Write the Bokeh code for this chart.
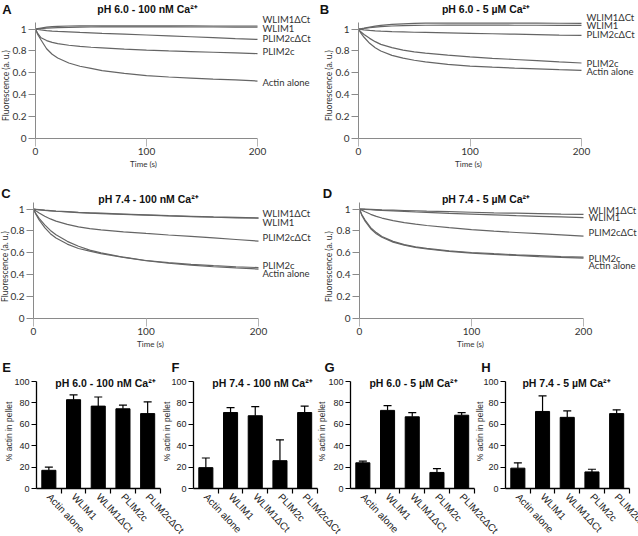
import math
from bokeh.plotting import figure
from bokeh.models import (Range1d, FixedTicker, Label, ColumnDataSource, Whisker, TeeHead,
                          LinearAxis)
from bokeh.layouts import row, column
from bokeh.embed import file_html
from bokeh.resources import INLINE

# ---------------- data ----------------
time_s = [0, 2, 5, 10, 15, 20, 30, 40, 50, 60, 80, 100, 120, 140, 160, 180, 200]
series_names = ["WLIM1ΔCt", "WLIM1", "PLIM2cΔCt", "PLIM2c", "Actin alone"]

# A: pH 6.0 - 100 nM Ca2+
a_wlim1dct = [1.00, 1.004, 1.010, 1.017, 1.022, 1.025, 1.028, 1.029, 1.030, 1.030, 1.030, 1.030, 1.029, 1.029, 1.028, 1.028, 1.028]
a_wlim1 = [1.00, 1.001, 1.004, 1.008, 1.011, 1.013, 1.016, 1.018, 1.019, 1.020, 1.020, 1.020, 1.020, 1.019, 1.019, 1.018, 1.018]
a_plim2cdct = [1.00, 0.996, 0.992, 0.986, 0.982, 0.979, 0.974, 0.969, 0.965, 0.961, 0.954, 0.946, 0.938, 0.930, 0.922, 0.913, 0.905]
a_plim2c = [1.00, 0.96, 0.92, 0.895, 0.878, 0.867, 0.852, 0.842, 0.834, 0.828, 0.816, 0.807, 0.800, 0.794, 0.788, 0.782, 0.776]
a_actin = [1.00, 0.95, 0.90, 0.82, 0.77, 0.735, 0.69, 0.66, 0.64, 0.62, 0.595, 0.575, 0.562, 0.552, 0.543, 0.535, 0.525]

# B: pH 6.0 - 5 uM Ca2+
b_wlim1dct = [1.00, 1.003, 1.008, 1.018, 1.027, 1.034, 1.043, 1.048, 1.052, 1.054, 1.055, 1.055, 1.055, 1.055, 1.054, 1.053, 1.052]
b_wlim1 = [1.00, 1.002, 1.005, 1.012, 1.018, 1.022, 1.028, 1.032, 1.034, 1.035, 1.036, 1.036, 1.036, 1.035, 1.035, 1.034, 1.033]
b_plim2cdct = [1.00, 0.997, 0.993, 0.988, 0.984, 0.981, 0.977, 0.974, 0.971, 0.969, 0.965, 0.961, 0.957, 0.953, 0.949, 0.945, 0.942]
b_plim2c = [1.00, 0.975, 0.95, 0.915, 0.885, 0.86, 0.83, 0.808, 0.792, 0.78, 0.762, 0.746, 0.733, 0.722, 0.711, 0.70, 0.69]
b_actin = [1.00, 0.965, 0.925, 0.87, 0.83, 0.80, 0.76, 0.735, 0.715, 0.70, 0.678, 0.662, 0.652, 0.643, 0.636, 0.629, 0.623]

# C: pH 7.4 - 100 nM Ca2+
c_wlim1dct = [1.00, 0.998, 0.995, 0.990, 0.986, 0.982, 0.976, 0.970, 0.966, 0.962, 0.954, 0.947, 0.940, 0.934, 0.928, 0.924, 0.920]
c_wlim1 = [1.00, 0.997, 0.993, 0.988, 0.984, 0.980, 0.974, 0.968, 0.963, 0.959, 0.951, 0.944, 0.937, 0.931, 0.925, 0.920, 0.916]
c_plim2cdct = [1.00, 0.985, 0.965, 0.935, 0.91, 0.89, 0.86, 0.838, 0.822, 0.81, 0.792, 0.777, 0.763, 0.75, 0.737, 0.722, 0.707]
c_plim2c = [1.00, 0.96, 0.915, 0.855, 0.805, 0.765, 0.705, 0.66, 0.625, 0.60, 0.56, 0.53, 0.51, 0.495, 0.483, 0.473, 0.465]
c_actin = [1.00, 0.955, 0.90, 0.83, 0.775, 0.735, 0.68, 0.64, 0.615, 0.593, 0.558, 0.528, 0.505, 0.488, 0.473, 0.462, 0.452]

# D: pH 7.4 - 5 uM Ca2+
d_wlim1dct = [1.00, 1.00, 0.999, 0.997, 0.995, 0.993, 0.990, 0.987, 0.984, 0.981, 0.976, 0.971, 0.966, 0.962, 0.958, 0.954, 0.951]
d_wlim1 = [1.00, 0.999, 0.997, 0.994, 0.991, 0.988, 0.983, 0.978, 0.973, 0.969, 0.961, 0.954, 0.947, 0.940, 0.934, 0.928, 0.922]
d_plim2cdct = [1.00, 0.99, 0.975, 0.952, 0.933, 0.918, 0.895, 0.876, 0.862, 0.85, 0.83, 0.812, 0.798, 0.786, 0.775, 0.764, 0.753]
d_plim2c = [1.00, 0.95, 0.90, 0.83, 0.785, 0.75, 0.705, 0.675, 0.655, 0.64, 0.618, 0.603, 0.592, 0.582, 0.574, 0.566, 0.56]
d_actin = [1.00, 0.945, 0.89, 0.82, 0.775, 0.742, 0.698, 0.67, 0.65, 0.635, 0.614, 0.598, 0.586, 0.576, 0.566, 0.558, 0.552]

# Bar charts: % actin in pellet
categories = ["Actin alone", "WLIM1", "WLIM1ΔCt", "PLIM2c", "PLIM2cΔCt"]
e_pellet = [17, 83, 77, 74.5, 70]
e_err = [3, 4.5, 8.5, 3.5, 11]
f_pellet = [19.5, 71, 68, 26, 71]
f_err = [9, 4.5, 8.5, 19.5, 6]
g_pellet = [24, 73, 67, 15, 68.5]
g_err = [1.5, 4.5, 4, 3.5, 2.5]
h_pellet = [19, 72, 66.5, 15.5, 70]
h_err = [5, 14.5, 6, 2.5, 3.5]
pellet_ticks = [0, 20, 40, 60, 80, 100]

titles = {
    "A": "pH 6.0 - 100 nM Ca²⁺", "B": "pH 6.0 - 5 µM Ca²⁺",
    "C": "pH 7.4 - 100 nM Ca²⁺", "D": "pH 7.4 - 5 µM Ca²⁺",
    "E": "pH 6.0 - 100 nM Ca²⁺", "F": "pH 7.4 - 100 nM Ca²⁺",
    "G": "pH 6.0 - 5 µM Ca²⁺", "H": "pH 7.4 - 5 µM Ca²⁺",
}

LABEL_FONT = "Lato"
TITLE_FONT = "Liberation Sans"
YMAX = 1.06


def base_fig(w, h, xr, yr, **kw):
    p = figure(width=w, height=h, x_range=xr, y_range=yr,
               output_backend="svg", toolbar_location=None, min_border=0, **kw)
    p.outline_line_color = None
    p.xgrid.visible = False
    p.ygrid.visible = False
    p.background_fill_color = "white"
    p.border_fill_color = "white"
    return p


def add_text(p, x, y, text, size, font=LABEL_FONT, bold=False, align="center",
             angle=0.0, color="#333333"):
    p.add_layout(Label(x=x, y=y, text=text, text_font=font, text_font_size=size,
                       text_font_style="bold" if bold else "normal", text_align=align,
                       text_baseline="middle", angle=angle, text_color=color))


def line_panel(cfg, curves):
    w, h = cfg["w"], cfg["h"]
    L, R, T, B = cfg["box"]
    sx = (w - L - R) / 200.0
    sy = (h - T - B) / YMAX
    x0, x1 = -L / sx, 200 + R / sx
    y0, y1 = -B / sy, YMAX + T / sy
    p = base_fig(w, h, Range1d(x0, x1), Range1d(y0, y1))

    def dx(px):
        return x0 + px / sx

    def dy(py):
        return y1 - py / sy

    for ys in curves:
        p.line(time_s, ys, line_color="#656565", line_width=1.2)

    xa = p.xaxis[0]
    xa.fixed_location = 0
    xa.bounds = (0, 200)
    xa.ticker = FixedTicker(ticks=[0, 100, 200])
    xa.axis_line_color = "#8a8a8a"
    xa.major_tick_line_color = "#b5b5b5"
    xa.major_tick_out = 8
    xa.major_tick_in = 0
    xa.minor_tick_line_color = None
    xa.major_label_standoff = 1
    xa.major_label_text_font = LABEL_FONT
    xa.major_label_text_font_size = "10px"
    xa.major_label_text_color = "#333333"

    ya = p.yaxis[0]
    ya.fixed_location = 0
    ya.bounds = (0, YMAX)
    ya.ticker = FixedTicker(ticks=[0, 0.2, 0.4, 0.6, 0.8, 1])
    ya.major_label_overrides = {0: "0", 1: "1"}
    ya.axis_line_color = "#8a8a8a"
    ya.major_tick_line_color = "#8a8a8a"
    ya.major_tick_out = 7
    ya.major_tick_in = 0
    ya.minor_tick_line_color = None
    ya.major_label_standoff = 2
    ya.major_label_text_font = LABEL_FONT
    ya.major_label_text_font_size = "10px"
    ya.major_label_text_color = "#333333"

    name = cfg["name"]
    lx, ly = cfg["letter"]
    add_text(p, dx(lx), dy(ly), name, "13px", TITLE_FONT, True, color="#111111")
    tx, ty = cfg["title"]
    add_text(p, dx(tx), dy(ty), titles[name], "10.5px", TITLE_FONT, True, color="#111111")
    yx, yy = cfg["ylabel"]
    add_text(p, dx(yx), dy(yy), "Fluorescence (a. u.)", "8.5px", angle=math.pi / 2)
    xx, xy = cfg["xlabel"]
    add_text(p, dx(xx), dy(xy), "Time (s)", "8px")
    for sname, syy in zip(series_names, cfg["series_y"]):
        add_text(p, dx(cfg["series_x"]), dy(syy), sname, "9.5px", align="left")
    return p


def bar_row(panels):
    """All four bar charts in one canvas so rotated labels may spill across panels."""
    w, h = 638, 176
    unit = 24.7                       # pixels per category
    sy = (128 - 21) / 100.0           # pixels per % unit
    x1 = w / unit
    y0, y1 = -(h - 128) / sy, 100 + 21 / sy
    p = base_fig(w, h, Range1d(0, x1), Range1d(y0, y1), x_axis_type=None, y_axis_type=None)

    def dx(px):
        return px / unit

    def dy(py):
        return y1 - py / sy

    n = len(categories)
    bx, btop, bup = [], [], []
    for cfg in panels:
        o = dx(cfg["axis_x"])
        xs = [o + 0.5 + i for i in range(n)]
        bx += xs
        btop += cfg["vals"]
        bup += [v + e for v, e in zip(cfg["vals"], cfg["errs"])]

        xa = LinearAxis(fixed_location=0, bounds=(o, o + n),
                        ticker=FixedTicker(ticks=[], minor_ticks=[o + k for k in range(1, n + 1)]),
                        axis_line_color="black", axis_line_width=1.3,
                        major_tick_out=0, major_tick_in=0,
                        minor_tick_line_color="black", minor_tick_line_width=1.2,
                        minor_tick_out=5, minor_tick_in=0)
        p.add_layout(xa, "below")
        ya = LinearAxis(fixed_location=o, bounds=(0, 100), ticker=FixedTicker(ticks=pellet_ticks),
                        axis_line_color="black", axis_line_width=1.3,
                        major_tick_line_color="black", major_tick_line_width=1.2,
                        major_tick_out=5, major_tick_in=0, minor_tick_line_color=None,
                        major_label_standoff=2, major_label_text_font=TITLE_FONT,
                        major_label_text_font_size="9px", major_label_text_color="#222222")
        p.add_layout(ya, "left")

        for x, c in zip(xs, categories):
            add_text(p, x, dy(128 + 6.5), c, "10px", TITLE_FONT, align="left",
                     angle=-0.82, color="#222222")
        name = cfg["name"]
        lx, ly = cfg["letter"]
        add_text(p, dx(lx), dy(ly), name, "13px", TITLE_FONT, True, color="#111111")
        add_text(p, dx(cfg["title_x"]), dy(22), titles[name], "10.5px", TITLE_FONT, True,
                 color="#111111")
        add_text(p, dx(cfg["ylabel_x"]), dy(71), "% actin in pellet", "8.5px", TITLE_FONT,
                 angle=math.pi / 2)

    src = ColumnDataSource(dict(x=bx, top=btop, upper=bup))
    p.vbar(x="x", top="top", width=0.57, source=src, fill_color="black", line_color="black")
    p.add_layout(Whisker(source=src, base="x", lower="top", upper="upper", dimension="height",
                         upper_head=TeeHead(size=8, line_color="black", line_width=1.2),
                         lower_head=None, line_color="black", line_width=1.2))
    return p


pa = line_panel(dict(name="A", w=318, h=175, box=(35, 61, 22, 37), letter=(6.5, 8.5),
                     title=(147, 8.5), ylabel=(5, 85), xlabel=(143, 163), series_x=262,
                     series_y=[19, 28, 37.5, 51, 82]),
                [a_wlim1dct, a_wlim1, a_plim2cdct, a_plim2c, a_actin])
pb = line_panel(dict(name="B", w=320, h=175, box=(40, 57, 22, 37), letter=(6, 8.5),
                     title=(167.5, 8.5), ylabel=(10.5, 85), xlabel=(150, 163), series_x=268,
                     series_y=[16.7, 25, 34, 63, 71]),
                [b_wlim1dct, b_wlim1, b_plim2cdct, b_plim2c, b_actin])
pc = line_panel(dict(name="C", w=318, h=185, box=(33, 60, 27, 42), letter=(5.5, 17.5),
                     title=(148, 23), ylabel=(4.5, 91), xlabel=(150, 168), series_x=262,
                     series_y=[38.3, 47.3, 61.7, 90, 98.3]),
                [c_wlim1dct, c_wlim1, c_plim2cdct, c_plim2c, c_actin])
pd_ = line_panel(dict(name="D", w=320, h=185, box=(41, 55, 27, 42), letter=(9, 17.5),
                      title=(167.5, 23), ylabel=(10.5, 91), xlabel=(152, 168), series_x=270,
                      series_y=[35, 42.3, 56.7, 82.7, 90]),
                 [d_wlim1dct, d_wlim1, d_plim2cdct, d_plim2c, d_actin])

pbars = bar_row([
    dict(name="E", axis_x=36, letter=(6, 7), title_x=105, ylabel_x=8, vals=e_pellet, errs=e_err),
    dict(name="F", axis_x=193, letter=(175, 7), title_x=262, ylabel_x=166, vals=f_pellet, errs=f_err),
    dict(name="G", axis_x=350, letter=(329, 7), title_x=413, ylabel_x=321, vals=g_pellet, errs=g_err),
    dict(name="H", axis_x=505, letter=(485.5, 7), title_x=566, ylabel_x=479, vals=h_pellet, errs=h_err),
])

layout = column(row(pa, pb), row(pc, pd_), pbars)

open("out.html", "w").write(file_html(layout, INLINE))
